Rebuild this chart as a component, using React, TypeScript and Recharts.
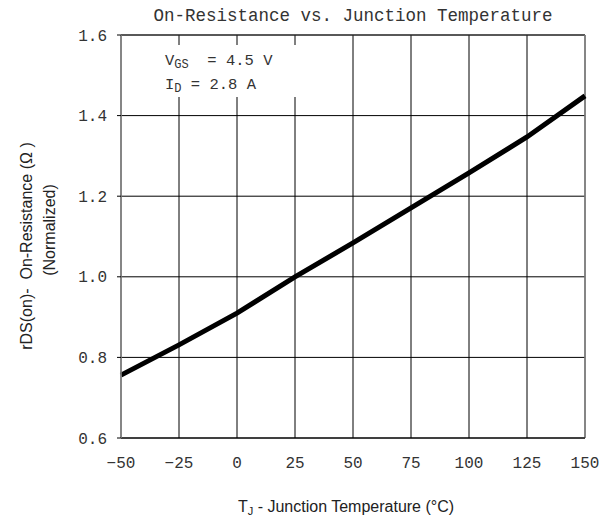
import React from "react";
import { LineChart, Line, XAxis, YAxis, CartesianGrid, ReferenceLine, ReferenceArea } from "recharts";

const temps = [-50, -25, 0, 25, 50, 75, 100, 125, 150];
const rdsNorm = [0.756, 0.831, 0.91, 1.0, 1.084, 1.171, 1.258, 1.347, 1.449];
const xTicks = [-50, -25, 0, 25, 50, 75, 100, 125, 150];
const yTicks = [0.6, 0.8, 1.0, 1.2, 1.4, 1.6];

const data = temps.map((t, i) => ({ t, r: rdsNorm[i] }));

const MONO = "'Liberation Mono', 'DejaVu Sans Mono', monospace";
const SANS = "'Liberation Sans', Arial, sans-serif";

export default function App() {
  return (
    <div style={{ position: "absolute", left: 0, top: 0, width: 600, height: 522, background: "#fff" }}>
      <LineChart width={600} height={522} data={data} margin={{ top: 35, right: 15, bottom: 0, left: 0 }}>
        <CartesianGrid stroke="#000" strokeWidth={1} vertical={true} horizontal={true} />
        <ReferenceArea x1={-49.4} x2={26} y1={1.446} y2={1.575} fill="#fff" fillOpacity={1} stroke="none" ifOverflow="visible" />
        <ReferenceLine y={1.6} stroke="#333" strokeWidth={1} />
        <ReferenceLine x={150} stroke="#888" strokeWidth={1.5} />
        <XAxis
          dataKey="t"
          type="number"
          domain={[-50, 150]}
          ticks={xTicks}
          height={84}
          axisLine={{ stroke: "#000", strokeWidth: 1 }}
          tickLine={false}
          tickSize={0}
          tickMargin={19}
          tickFormatter={(v: number) => String(v).replace("-", "\u2212")}
          tick={{ fill: "#333", fontSize: 16, fontFamily: MONO }}
          interval={0}
        />
        <YAxis
          type="number"
          domain={[0.6, 1.6]}
          ticks={yTicks}
          width={121}
          axisLine={{ stroke: "#888", strokeWidth: 1.5 }}
          tickLine={{ stroke: "#000" }}
          tickSize={4}
          tickMargin={10}
          tickFormatter={(v: number) => v.toFixed(1)}
          tick={{ fill: "#333", fontSize: 16, fontFamily: MONO }}
          interval={0}
        />
        <Line type="linear" dataKey="r" stroke="#000" strokeWidth={5} dot={false} isAnimationActive={false} />
      </LineChart>

      <div style={{ position: "absolute", left: 0, width: 706, top: 6, textAlign: "center", fontFamily: MONO, fontSize: 17.5, color: "#333", whiteSpace: "pre" }}>
        On-Resistance vs. Junction Temperature
      </div>

      <div style={{ position: "absolute", left: 165, top: 51, fontFamily: MONO, fontSize: 15.5, color: "#333", whiteSpace: "pre", lineHeight: "20px" }}>
        <div>V<sub style={{ fontSize: 12, verticalAlign: "-3px" }}>GS</sub>  = 4.5 V</div>
        <div>I<sub style={{ fontSize: 12, verticalAlign: "-3px" }}>D</sub> = 2.8 A</div>
      </div>

      <div style={{ position: "absolute", left: 27 - 150, top: 246 - 10, width: 300, height: 20, lineHeight: "20px", textAlign: "center", transform: "rotate(-90deg)", fontFamily: SANS, fontSize: 16, color: "#222", whiteSpace: "pre" }}>
        rDS(on)-  On-Resistance (Ω )
      </div>
      <div style={{ position: "absolute", left: 50 - 150, top: 230 - 10, width: 300, height: 20, lineHeight: "20px", textAlign: "center", transform: "rotate(-90deg)", fontFamily: SANS, fontSize: 16, color: "#222", whiteSpace: "pre" }}>
        (Normalized)
      </div>

      <div style={{ position: "absolute", left: 146, width: 400, top: 497, textAlign: "center", fontFamily: SANS, fontSize: 16, color: "#222", whiteSpace: "pre", lineHeight: "20px" }}>
        T<sub style={{ fontSize: 11, verticalAlign: "-3px" }}>J</sub> - Junction Temperature (°C)
      </div>
    </div>
  );
}
